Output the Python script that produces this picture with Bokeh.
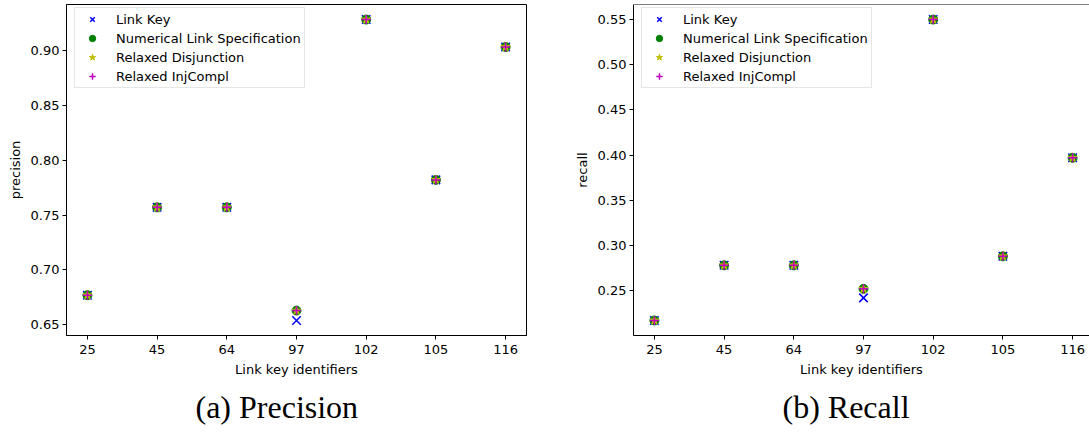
from bokeh.plotting import figure
from bokeh.models import Range1d, FixedTicker, NumeralTickFormatter, Title, Span
from bokeh.layouts import row
from bokeh.embed import file_html
from bokeh.resources import INLINE

# ---------------- data ----------------
link_ids = ["25", "45", "64", "97", "102", "105", "116"]

prec_link_key = [0.677, 0.757, 0.757, 0.654, 0.928, 0.782, 0.903]
prec_numerical = [0.677, 0.757, 0.757, 0.663, 0.928, 0.782, 0.903]
prec_relaxed_disj = [0.677, 0.757, 0.757, 0.663, 0.928, 0.782, 0.903]
prec_relaxed_inj = [0.677, 0.757, 0.757, 0.663, 0.928, 0.782, 0.903]
prec_ticks = [0.65, 0.70, 0.75, 0.80, 0.85, 0.90]

rec_link_key = [0.217, 0.278, 0.278, 0.242, 0.550, 0.288, 0.397]
rec_numerical = [0.217, 0.278, 0.278, 0.252, 0.550, 0.288, 0.397]
rec_relaxed_disj = [0.217, 0.278, 0.278, 0.252, 0.550, 0.288, 0.397]
rec_relaxed_inj = [0.217, 0.278, 0.278, 0.252, 0.550, 0.288, 0.397]
rec_ticks = [0.25, 0.30, 0.35, 0.40, 0.45, 0.50, 0.55]

series_names = ["Link Key", "Numerical Link Specification",
                "Relaxed Disjunction", "Relaxed InjCompl"]

FONT = "DejaVu Sans"
FS = "13px"
FRAME_BOTTOM = 335
FIG_H = 432
PX_PER_UNIT = 460 / 6.6
LEGEND_TOP = 9
LEGEND_H = 79


def make_panel(series, ticks, ylabel, caption, width, border_left,
               frame_w, frame_top, caption_offset, show_right):
    idx = list(range(len(link_ids)))
    allv = [v for s in series for v in s]
    lo, hi = min(allv), max(allv)
    span = hi - lo
    lo, hi = lo - 0.05 * span, hi + 0.05 * span
    x_end = -0.3 + frame_w / PX_PER_UNIT
    frame_h = FRAME_BOTTOM - frame_top

    p = figure(width=width, height=FIG_H, output_backend="svg",
               toolbar_location=None,
               x_range=Range1d(-0.3, x_end), y_range=Range1d(lo, hi),
               min_border_left=border_left, min_border_right=width - border_left - frame_w,
               min_border_top=frame_top, min_border_bottom=FIG_H - FRAME_BOTTOM)
    p.xgrid.visible = False
    p.ygrid.visible = False
    p.background_fill_color = "white"
    p.border_fill_color = "white"
    if show_right:
        p.outline_line_color = "black"
        p.outline_line_width = 1
    else:
        p.outline_line_color = None
        p.add_layout(Span(location=hi, dimension="width",
                          line_color="black", line_width=1))

    p.scatter(idx, series[0], marker="x", size=12, line_color="#0000ff",
              line_width=1.5, legend_label=series_names[0])
    p.scatter(idx, series[1], marker="circle", size=9, fill_color="#008000",
              line_color="#008000", legend_label=series_names[1])
    p.scatter(idx, series[2], marker="star", size=9, fill_color="#bfbf00",
              line_color="#bfbf00", legend_label=series_names[2])
    p.scatter(idx, series[3], marker="cross", size=9, line_color="#bf00bf",
              line_width=1.5, legend_label=series_names[3])

    for ax in (p.xaxis, p.yaxis):
        ax.axis_line_color = "black"
        ax.axis_line_width = 1
        ax.major_tick_line_color = "black"
        ax.major_tick_in = 0
        ax.major_tick_out = 4
        ax.minor_tick_line_color = None
        ax.major_label_text_font = FONT
        ax.major_label_text_font_size = FS
        ax.major_label_text_color = "black"
        ax.axis_label_text_font = FONT
        ax.axis_label_text_font_size = FS
        ax.axis_label_text_font_style = "normal"
        ax.axis_label_text_color = "black"

    p.xaxis.ticker = FixedTicker(ticks=idx)
    p.xaxis.major_label_overrides = {i: lab for i, lab in zip(idx, link_ids)}
    p.xaxis.major_label_standoff = 5
    p.xaxis.axis_label = "Link key identifiers"
    p.xaxis.axis_label_standoff = 5

    p.yaxis.ticker = FixedTicker(ticks=ticks)
    p.yaxis.formatter = NumeralTickFormatter(format="0.00")
    p.yaxis.major_label_standoff = 3
    p.yaxis.axis_label = ylabel
    p.yaxis.axis_label_standoff = 5

    lg = p.legend[0]
    lg.location = (8, frame_h - (LEGEND_TOP - frame_top) - LEGEND_H)
    lg.margin = 0
    lg.padding = 3
    lg.spacing = 3
    lg.glyph_height = 16
    lg.glyph_width = 28
    lg.label_height = 16
    lg.label_standoff = 10
    lg.label_text_font = FONT
    lg.label_text_font_size = FS
    lg.label_text_color = "black"
    lg.border_line_color = "#cccccc"
    lg.border_line_width = 1
    lg.background_fill_color = "white"
    lg.background_fill_alpha = 0.8

    p.add_layout(Title(text=caption, align="left", offset=caption_offset,
                       text_font="Liberation Serif", text_font_size="32px",
                       text_font_style="normal", text_color="black",
                       standoff=15), "below")
    return p


p1 = make_panel([prec_link_key, prec_numerical, prec_relaxed_disj, prec_relaxed_inj],
                prec_ticks, "precision", "(a) Precision",
                width=545, border_left=66, frame_w=460, frame_top=2,
                caption_offset=129, show_right=True)
p2 = make_panel([rec_link_key, rec_numerical, rec_relaxed_disj, rec_relaxed_inj],
                rec_ticks, "recall", "(b) Recall",
                width=544, border_left=88, frame_w=456, frame_top=4,
                caption_offset=149, show_right=False)

layout = row(p1, p2)
open("out.html", "w").write(file_html(layout, INLINE))
